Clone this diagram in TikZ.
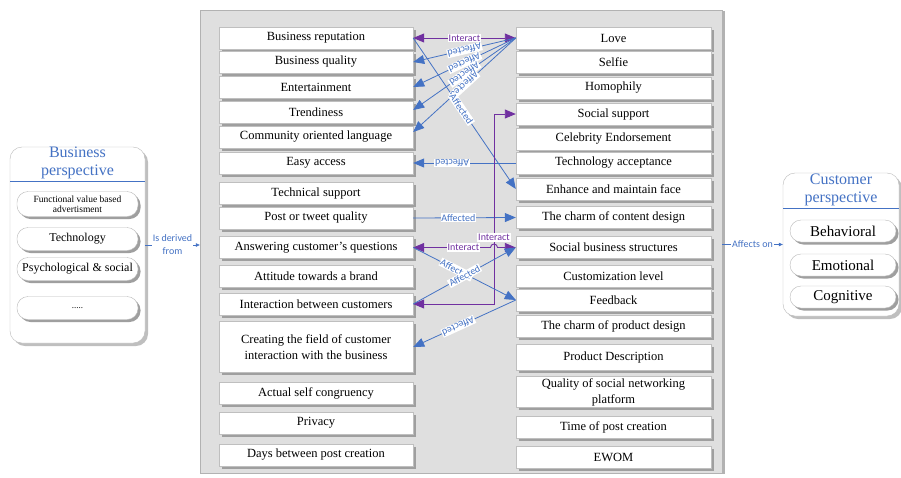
\documentclass[tikz,border=0pt]{standalone}
\usepackage{fontspec}
\setmainfont{Liberation Serif}
\newfontfamily\labfont{Carlito}
\usetikzlibrary{arrows.meta,shadows,calc}
\definecolor{lblue}{RGB}{68,114,196}
\definecolor{lpurple}{RGB}{112,48,160}
\definecolor{panelbg}{RGB}{223,223,223}
\definecolor{ttlblue}{RGB}{68,114,196}
\begin{document}
\begin{tikzpicture}[x=1pt,y=-1pt,
  >={Triangle[length=11pt,width=9pt]},
  lab/.style={font=\labfont\fontsize{10}{11}\selectfont, fill=white, inner sep=0.8pt},
  shad/.style={drop shadow={shadow xshift=2.5pt,shadow yshift=-2.5pt,fill=gray!75,opacity=1}},
  lbox/.style={draw=gray!50, fill=white, minimum width=194pt, minimum height=22pt, inner sep=1pt, align=center, font=\fontsize{12.5}{16}\selectfont, shad},
  rbox/.style={lbox, minimum width=195pt},
  pill/.style={draw=gray!55, fill=white, rounded corners=11pt, minimum height=23pt, inner sep=1pt, align=center, shad},
  panel/.style={draw=gray!55, fill=white, rounded corners=12pt, inner sep=0pt, drop shadow={shadow xshift=3pt,shadow yshift=-3pt,fill=gray!50,opacity=1}},
  ttl/.style={text=ttlblue, align=center, font=\fontsize{16}{18}\selectfont},
  bl/.style={draw=lblue, line width=0.8pt},
  pu/.style={draw=lpurple, line width=0.9pt},
  bt/.style={lab, text=lblue},
  pt/.style={lab, text=lpurple}
]
\useasboundingbox (0,0) rectangle (901,477);

% middle panel
\node[draw=gray!60, fill=panelbg, minimum width=522pt, minimum height=463pt, inner sep=0pt,
  drop shadow={shadow xshift=3pt,shadow yshift=-1pt,fill=gray!60,opacity=1}] (MP) at (461,241.5) {};

% left panel
\node[panel, minimum width=135pt, minimum height=196pt] (BP) at (77.5,245) {};
\node[ttl] (BPt) at (77.5,163) {Business\\perspective};
\draw[lblue, line width=0.8pt] (10,181) -- (145,181);
\node[pill, minimum width=121pt, minimum height=25pt, font=\fontsize{9.5}{10}\selectfont] (P1) at (77.5,204) {Functional value based\\advertisment};
\node[pill, minimum width=121pt, font=\fontsize{12}{14}\selectfont] (P2) at (77.5,239) {Technology};
\node[pill, minimum width=121pt, font=\fontsize{12}{14}\selectfont] (P3) at (77.5,269) {Psychological \& social};
\node[pill, minimum width=121pt, font=\fontsize{9}{10}\selectfont] (P4) at (77.5,308) {.....};

% right panel
\node[panel, minimum width=116pt, minimum height=143pt] (CP) at (841,244.5) {};
\node[ttl] (CPt) at (841,190) {Customer\\perspective};
\draw[lblue, line width=0.8pt] (783,208) -- (899,208);
\node[pill, minimum width=106pt, minimum height=22pt, font=\fontsize{15}{17}\selectfont] (Q1) at (843,231) {Behavioral};
\node[pill, minimum width=106pt, minimum height=22pt, font=\fontsize{15}{17}\selectfont] (Q2) at (843,265) {Emotional};
\node[pill, minimum width=106pt, minimum height=22pt, font=\fontsize{15}{17}\selectfont] (Q3) at (843,297) {Cognitive};

% left column
\node[lbox] (LBR) at (316,38) {Business reputation};
\node[lbox] (LBQ) at (316,62) {Business quality};
\node[lbox] (LEnt) at (316,87) {Entertainment};
\node[lbox] (LTr) at (316,112) {Trendiness};
\node[lbox] (LCom) at (316,137) {Community oriented language};
\node[lbox] (LEasy) at (316,163) {Easy access};
\node[lbox] (LTech) at (316,193) {Technical support};
\node[lbox] (LPost) at (316,218) {Post or tweet quality};
\node[lbox] (LAns) at (316,247.5) {Answering customer’s questions};
\node[lbox] (LAtt) at (316,276) {Attitude towards a brand};
\node[lbox] (LInt) at (316,304) {Interaction between customers};
\node[lbox, minimum height=51pt] (LCre) at (316,347) {Creating the field of customer\\interaction with the business};
\node[lbox] (LAct) at (316,393) {Actual self congruency};
\node[lbox] (LPriv) at (316,423) {Privacy};
\node[lbox] (LDays) at (316,455) {Days between post creation};

% right column
\node[rbox] (RLove) at (613.5,38) {Love};
\node[rbox] (RSelf) at (613.5,62) {Selfie};
\node[rbox] (RHom) at (613.5,88) {Homophily};
\node[rbox] (RSoc) at (613.5,114) {Social support};
\node[rbox] (RCel) at (613.5,139) {Celebrity Endorsement};
\node[rbox] (RTech) at (613.5,163) {Technology acceptance};
\node[rbox] (REnh) at (613.5,189) {Enhance and maintain face};
\node[rbox] (RCharm) at (613.5,217.5) {The charm of content design};
\node[rbox] (RSbs) at (613.5,247.5) {Social business structures};
\node[rbox] (RCust) at (613.5,276) {Customization level};
\node[rbox] (RFeed) at (613.5,300) {Feedback};
\node[rbox] (RProd) at (613.5,326) {The charm of product design};
\node[rbox, minimum height=26pt] (RDesc) at (613.5,357) {Product Description};
\node[rbox, minimum height=31pt] (RQual) at (613.5,392) {Quality of social networking\\platform};
\node[rbox] (RTime) at (613.5,427) {Time of post creation};
\node[rbox] (REW) at (613.5,457) {EWOM};

% outer connectors
\draw[lblue, line width=0.6pt, -{Triangle[length=4pt,width=3.5pt]}] (BP.east) -- node[bt, align=center, font=\labfont\fontsize{10}{13}\selectfont]{Is derived\\from} (BP.east -| MP.west);
\draw[lblue, line width=0.6pt, -{Triangle[length=4pt,width=3.5pt]}] (CP.west -| MP.east) -- node[bt, font=\labfont\fontsize{10}{11}\selectfont]{Affects on} (CP.west);

% inner connectors
\draw[pu,<->] (LBR.east) -- node[pt]{Interact} (RLove.west);
\draw[bl,->] (LBR.east) -- (REnh.west);
\draw[bl,->] (RLove.west) -- node[bt,sloped,allow upside down]{Affected} (LBQ.east);
\draw[bl,->] (RLove.west) -- node[bt,sloped,allow upside down]{Affected} (LEnt.east);
\draw[bl,->] (RLove.west) -- node[bt,sloped,allow upside down]{Affected} ([yshift=2pt]LTr.east);
\draw[bl,->] (RLove.west) -- node[bt,sloped,allow upside down]{Affected} ([yshift=5pt]LCom.east);
\path (LBR.east) -- node[bt,sloped,pos=0.47]{Affected} (REnh.west);
\draw[bl,->] (RTech.west) -- node[bt,sloped,allow upside down,pos=0.62]{Affected} (LEasy.east);
\draw[bl,->] (LPost.east) -- node[bt,pos=0.44]{Affected} (RCharm.west);

\draw[pu,<->] (LInt.east) -- (494,304) |- node[pt,pos=0.175]{Interact} (RSoc.west);
\draw[pu,<->] (LAns.east) -- node[pt,pos=0.65]{Interact} (490.5,247.5) arc[start angle=180,end angle=360,radius=3.5] -- (RSbs.west);

\draw[bl,->] (LAns.east) -- node[bt,sloped,pos=0.42]{Affected} (RFeed.west);
\draw[bl,->] (LInt.east) -- node[bt,sloped]{Affected} (RSbs.west);
\draw[bl,->] (RFeed.west) -- node[bt,sloped,allow upside down,pos=0.56]{Affected} (LCre.east);
\end{tikzpicture}
\end{document}
